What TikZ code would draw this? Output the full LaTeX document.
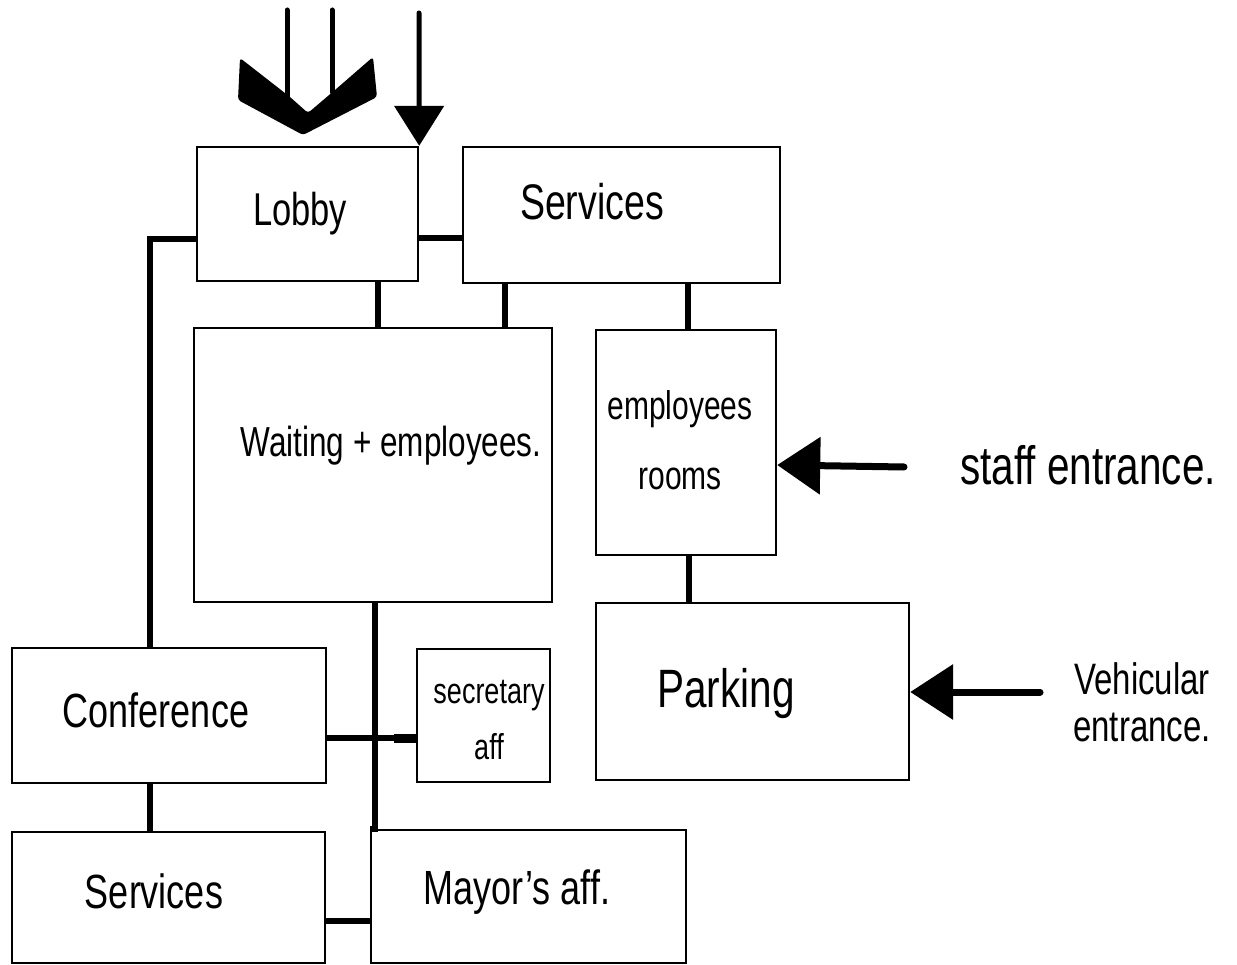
\documentclass[tikz,border=0pt]{standalone}
\usepackage{fontspec}
\setmainfont{Liberation Sans}
\usetikzlibrary{arrows.meta}
% narrow, tall lettering
\newcommand\hand[1]{\scalebox{0.75}[1]{#1}}
\begin{document}
\begin{tikzpicture}[x=1pt,y=-1pt,
  room/.style={draw, line width=2.4pt, inner sep=0pt, rectangle},
  conn/.style={line width=6pt},
  word/.style={inner sep=0pt, anchor=base, font=\fontsize{46}{50}\selectfont},
  entry/.style={line width=5pt, line cap=round},
  ]
\useasboundingbox[fill=white] (0,0) rectangle (1237,965);

% rooms
\node[room, minimum width=221pt, minimum height=134pt] (lobby) at (307.5,214) {};
\node[room, minimum width=317pt, minimum height=136pt] (servA) at (621.5,215) {};
\node[room, minimum width=358pt, minimum height=274pt] (wait) at (373,465) {};
\node[room, minimum width=180pt, minimum height=225pt] (emp) at (686,442.5) {};
\node[room, minimum width=313pt, minimum height=177pt] (park) at (752.5,691.5) {};
\node[room, minimum width=314pt, minimum height=135pt] (conf) at (169,715.5) {};
\node[room, minimum width=133pt, minimum height=133pt] (secr) at (483.5,715.5) {};
\node[room, minimum width=313pt, minimum height=131pt] (servB) at (168.5,897.5) {};
\node[room, minimum width=315pt, minimum height=133pt] (mayor) at (528.5,896.5) {};

% labels
\node[word] (tlobby) at (300,226) {\hand{Lobby}};
\node[word, font=\fontsize{50}{54}\selectfont] (tservA) at (592,220) {\hand{Services}};
\node[word, font=\fontsize{42}{46}\selectfont] (twait) at (391,456) {\hand{Waiting + employees.}};
\node[inner sep=0pt, align=center, font=\fontsize{40}{70}\selectfont] (temp) at (680,440) {\hand{employees}\\\hand{rooms}};
\node[word, font=\fontsize{54}{58}\selectfont] (tstaff) at (1088,484) {\hand{staff entrance.}};
\node[word, font=\fontsize{54}{58}\selectfont] (tpark) at (726,707) {\hand{Parking}};
\node[inner sep=0pt, align=center, font=\fontsize{44}{47}\selectfont] (tveh) at (1142,702) {\hand{Vehicular}\\\hand{entrance.}};
\node[word, font=\fontsize{48}{52}\selectfont] (tconf) at (156,727) {\hand{Conference}};
\node[inner sep=0pt, align=center, font=\fontsize{36}{56}\selectfont] (tsecr) at (489,720) {\hand{secretary}\\\hand{aff}};
\node[word, font=\fontsize{48}{52}\selectfont] (tservB) at (154,908) {\hand{Services}};
\node[word, font=\fontsize{48}{52}\selectfont] (tmayor) at (517,904) {\hand{Mayor's aff.}};

% corridors between rooms
\draw[conn] ([yshift=43pt]lobby.south west) -| ([xshift=-19pt]conf.north);
\coordinate (l2s) at ([yshift=44pt]lobby.south east);
\draw[conn] (l2s) -- (l2s -| servA.west);
\coordinate (l2w) at ([xshift=70.5pt]lobby.south);
\draw[conn] (l2w) -- (l2w |- wait.north);
\coordinate (s2w) at ([xshift=-116.5pt]servA.south);
\draw[conn] (s2w) -- (s2w |- wait.north);
\coordinate (s2e) at ([xshift=2pt]emp.north);
\draw[conn] (s2e |- servA.south) -- (s2e);
\coordinate (e2p) at ([xshift=3pt]emp.south);
\draw[conn] (e2p) -- (e2p |- park.north);
\coordinate (w2m) at ([xshift=2pt]wait.south);
\draw[conn] (w2m) |- (mayor.north west);
\coordinate (c2s) at ([yshift=46pt]conf.south east);
\draw[conn] (c2s) -- (c2s -| secr.west);
\draw[line width=9pt] ([xshift=-22pt]c2s -| secr.west) -- (c2s -| secr.west);
\coordinate (c2v) at ([xshift=-19pt]conf.south);
\draw[conn] (c2v) -- (c2v |- servB.north);
\coordinate (v2m) at ([yshift=43pt]servB.south east);
\draw[conn] (v2m) -- (v2m -| mayor.west);

% main entrance
\fill[rounded corners=3pt] (240,58) -- (290,97) -- (308,113) -- (335,90) -- (373,57)
  -- (377,97) -- (303,135) -- (238,100) -- cycle;
\coordinate (pedA) at (287,10);
\coordinate (pedB) at (332,10);
\draw[entry] (pedA) -- (287,98);
\draw[entry] (pedB) -- (332,92);
\coordinate (sideent) at (419,13);
\draw[entry, -{Triangle[length=40pt,width=49pt]}] (sideent) -- (lobby.north east);

% staff and vehicle entrances
\coordinate (staffsrc) at (904,467);
\draw[entry, line width=7pt, -{Triangle[length=43pt,width=56pt]}] (staffsrc) -- ([yshift=-22.5pt]emp.east);
\coordinate (vehsrc) at (1040,692);
\draw[entry, line width=7pt, -{Triangle[length=43pt,width=54pt]}] (vehsrc) -- (vehsrc -| park.east);
\end{tikzpicture}
\end{document}
